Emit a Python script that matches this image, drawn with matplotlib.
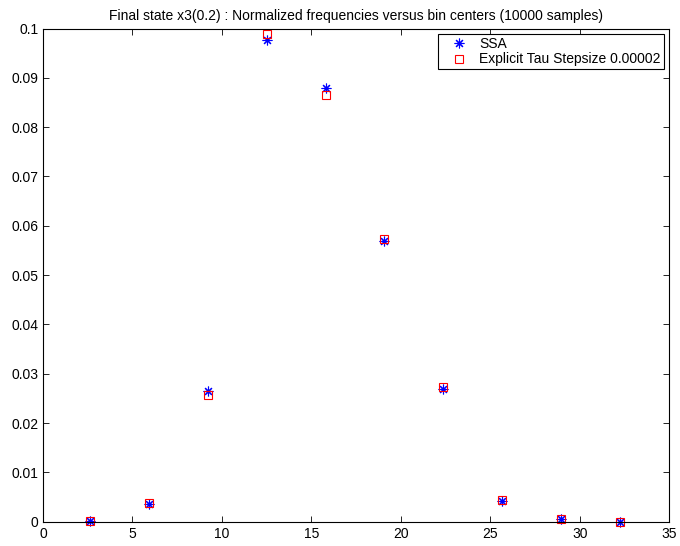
import numpy as np
import matplotlib
matplotlib.use('Agg')
import matplotlib.pyplot as plt

plt.rcParams['font.family'] = ['Liberation Sans', 'DejaVu Sans']

bin_centers = [2.62, 5.91, 9.21, 12.50, 15.79, 19.08, 22.37, 25.66, 28.95, 32.24]
ssa_freq = [0.0001, 0.0036, 0.0264, 0.0977, 0.0880, 0.0570, 0.0269, 0.0042, 0.0005, 0.0000]
tau_freq = [0.0001, 0.0037, 0.0256, 0.0989, 0.0866, 0.0573, 0.0273, 0.0045, 0.0005, 0.0000]

fig = plt.figure(figsize=(6.8, 5.46), dpi=100)
ax = fig.add_axes([43/680, 1 - 521.7/546, (669.3 - 43)/680, (521.7 - 28.5)/546])

# matlab style asterisk: 8 arms
ax.plot(bin_centers, ssa_freq, linestyle='none', marker=(8, 2, 0), color='b',
        markersize=7, markeredgewidth=0.8, label='SSA', clip_on=False)
ax.plot(bin_centers, tau_freq, 's', color='r', markerfacecolor='none', markersize=6,
        markeredgewidth=0.8, label='Explicit Tau Stepsize 0.00002', clip_on=False)

ax.set_xlim(0, 35)
ax.set_ylim(0, 0.1)
ax.set_xticks(np.arange(0, 36, 5))
ax.set_yticks(np.arange(0, 0.101, 0.01))
ax.set_yticklabels(['0', '0.01', '0.02', '0.03', '0.04', '0.05', '0.06', '0.07',
                    '0.08', '0.09', '0.1'])
ax.tick_params(direction='in', length=4, width=0.6, labelsize=10, top=True, right=True)
for s in ax.spines.values():
    s.set_linewidth(0.8)

ax.set_title('Final state x3(0.2) : Normalized frequencies versus bin centers (10000 samples)',
             fontsize=10, pad=6)

leg = ax.legend(loc='upper right', fontsize=10, fancybox=False, framealpha=1,
                edgecolor='k', borderaxespad=0.4, handletextpad=0.2, handlelength=2.6,
                borderpad=0.2, labelspacing=0.12, numpoints=1)
leg.get_frame().set_linewidth(0.8)

fig.savefig('out.png', dpi=100)
